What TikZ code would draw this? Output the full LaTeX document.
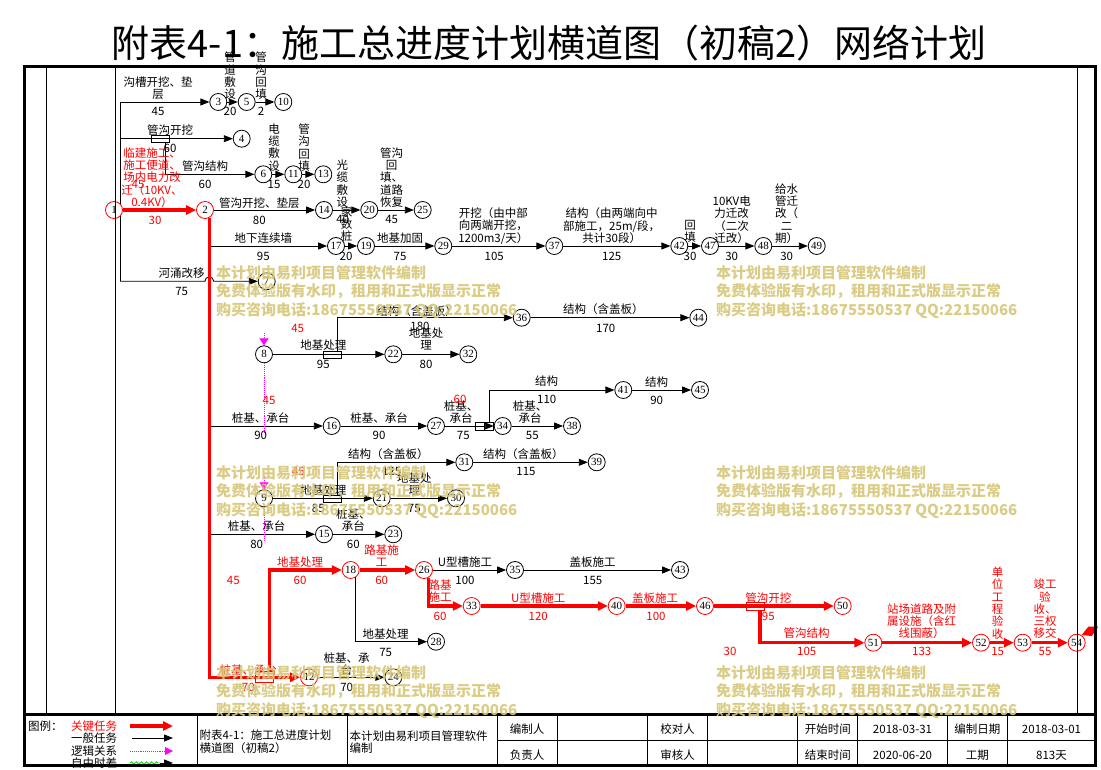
\documentclass[tikz,border=0pt]{standalone}
\usepackage{fontspec}
\setmainfont{Noto Sans CJK SC}
\newfontfamily\numfont{Liberation Serif}
\definecolor{red(key)}{rgb}{1.0, 0.0, 0.0}
\definecolor{magenta(logic)}{rgb}{1.0, 0.0, 1.0}
\definecolor{green(float)}{rgb}{0.0, 0.9, 0.0}
\definecolor{khaki(mark)}{rgb}{0.84, 0.78, 0.47}
\usetikzlibrary{arrows.meta,decorations.pathmorphing}

\begin{document}
\begin{tikzpicture}[x=1pt, y=-1pt,
	nd/.style={circle, draw, fill=white, inner sep=0pt, minimum size=17pt, line width=0.8pt, font=\numfont\fontsize{11}{11}\selectfont},
	ndk/.style={nd, draw=red(key)},
	lbl/.style={inner sep=0pt, align=center, font=\fontsize{11.5}{12.3}\selectfont},
	lblk/.style={lbl, text=red(key)},
	task/.style={draw, line width=0.9pt, -{Triangle[length=9pt,width=7pt]}},
	keytask/.style={draw=red(key), line width=3.3pt, -{Triangle[length=10pt,width=9pt]}},
	logic/.style={draw=magenta(logic), densely dotted, line width=0.9pt},
	split/.style={draw, inner sep=0pt, minimum width=18pt, minimum height=7.5pt, line width=0.8pt},
	wmark/.style={anchor=west, inner sep=0pt, align=left, text=khaki(mark), opacity=0.9, font=\bfseries\fontsize{15}{18.5}\selectfont},
	cell/.style={inner sep=0pt, align=center, font=\fontsize{11.5}{12.8}\selectfont}]
	\useasboundingbox (0,0) rectangle (1101,770);
	\node[inner sep=0pt, font=\fontsize{38}{40}\selectfont] (title) at (549,43) {附表4-1：施工总进度计划横道图（初稿2）网络计划};

	\coordinate (c1a) at (120,102);
	\coordinate (c1b) at (120,138.7);
	\coordinate (c1c) at (120,281.3);
	\draw[line width=0.9pt] (c1a) -- (c1c);

	\node[ndk] (n1) at (114,210) {1};
	\node[ndk] (n2) at (205,210) {2};
	\node[nd] (n3) at (218.3,102) {3};
	\node[nd] (n4) at (241.7,138.7) {4};
	\node[nd] (n5) at (246.7,102) {5};
	\node[nd] (n6) at (263.3,174.3) {6};
	\node[nd] (n7) at (266.7,281.3) {7};
	\node[nd] (n8) at (264,354.3) {8};
	\node[nd] (n9) at (264,498.3) {9};
	\node[nd] (n10) at (283.3,102) {10};
	\node[nd] (n11) at (293.3,174.3) {11};
	\node[ndk] (n12) at (309,677.3) {12};
	\node[nd] (n13) at (323.3,174.3) {13};
	\node[nd] (n14) at (324,210) {14};
	\node[nd] (n15) at (324,534.3) {15};
	\node[nd] (n16) at (331.7,426) {16};
	\node[nd] (n17) at (336,246) {17};
	\node[ndk] (n18) at (350.7,570) {18};
	\node[nd] (n19) at (366,246) {19};
	\node[nd] (n20) at (369.3,210) {20};
	\node[nd] (n21) at (381.7,498.3) {21};
	\node[nd] (n22) at (393.3,354.3) {22};
	\node[nd] (n23) at (393.3,534.3) {23};
	\node[nd] (n24) at (393.3,677.3) {24};
	\node[nd] (n25) at (422.7,210) {25};
	\node[ndk] (n26) at (424,570) {26};
	\node[nd] (n27) at (436,426) {27};
	\node[nd] (n28) at (436,641.7) {28};
	\node[nd] (n29) at (443.3,246) {29};
	\node[nd] (n30) at (456,498.3) {30};
	\node[nd] (n31) at (464.3,462.3) {31};
	\node[nd] (n32) at (468.3,354.3) {32};
	\node[ndk] (n33) at (471.7,606) {33};
	\node[nd] (n34) at (502.7,426) {34};
	\node[nd] (n35) at (515,570) {35};
	\node[nd] (n36) at (521.7,317.7) {36};
	\node[nd] (n37) at (554.3,246) {37};
	\node[nd] (n38) at (572,426) {38};
	\node[nd] (n39) at (596.7,462.3) {39};
	\node[ndk] (n40) at (616.7,606) {40};
	\node[nd] (n41) at (623.3,390) {41};
	\node[nd] (n42) at (679.3,246) {42};
	\node[nd] (n43) at (680,570) {43};
	\node[nd] (n44) at (698.3,317.7) {44};
	\node[nd] (n45) at (700,390) {45};
	\node[ndk] (n46) at (705,606) {46};
	\node[nd] (n47) at (710,246) {47};
	\node[nd] (n48) at (763.3,246) {48};
	\node[nd] (n49) at (816.7,246) {49};
	\node[ndk] (n50) at (842.7,606) {50};
	\node[ndk] (n51) at (873.3,642.7) {51};
	\node[ndk] (n52) at (981,642.7) {52};
	\node[ndk] (n53) at (1022.7,642.7) {53};
	\node[ndk] (n54) at (1076.7,642.7) {54};

	\node[split] (r1) at (160.5,138.7) {};
	\node[split] (r2) at (332.5,354.7) {};
	\node[split] (r3) at (484.3,426.3) {};
	\node[split] (r4) at (332.5,498.7) {};
	\node[split, draw=red(key), minimum height=10.5pt] (r5) at (264.2,677) {};
	\node[split, draw=red(key)] (r6) at (755,606.2) {};
	\draw[line width=0.8pt] (r3.north) -- (r3.south);

	\coordinate (hop1) at (204.9,281.3);
	\coordinate (s17) at (209.3,246);
	\coordinate (s16) at (209.3,426);
	\coordinate (s15) at (209.3,534.3);

	\path[task] (c1a) -- (n3);
	\path[task] (n3) -- (n5);
	\path[task] (n5) -- (n10);
	\path[task] (c1b) -- (n4);
	\path[task] ([xshift=5.2pt]r1.south) |- (n6);
	\path[task] (n6) -- (n11);
	\path[task] (n11) -- (n13);
	\path[task] (n2) -- (n14);
	\path[task] (n14) -- (n20);
	\path[task] (n20) -- (n25);
	\path[task] (s17) -- (n17);
	\path[task] (n17) -- (n19);
	\path[task] (n19) -- (n29);
	\path[task] (n29) -- (n37);
	\path[task] (n37) -- (n42);
	\path[task] (n42) -- (n47);
	\path[task] (n47) -- (n48);
	\path[task] (n48) -- (n49);
	\path[task] (c1c) -- (hop1) arc[start angle=180, end angle=360, radius=4.4] -- (n7);
	\path[task] (n8) -- (n22);
	\path[task] ([xshift=4.8pt]r2.north) |- (n36);
	\path[task] (n22) -- (n32);
	\path[task] (n36) -- (n44);
	\path[task] (s16) -- (n16);
	\path[task] (n16) -- (n27);
	\path[task] (n27) -- (n34);
	\path[task] ([xshift=5pt]r3.north) |- (n41);
	\path[task] (n34) -- (n38);
	\path[task] (n41) -- (n45);
	\path[task] (n9) -- (n21);
	\path[task] ([xshift=4.8pt]r4.north) |- (n31);
	\path[task] (n31) -- (n39);
	\path[task] (n21) -- (n30);
	\path[task] (s15) -- (n15);
	\path[task] (n15) -- (n23);
	\path[task] (n26) -- (n35);
	\path[task] (n35) -- (n43);
	\path[task] (n18.-54) |- (n28);
	\path[task] (n12) -- (n24);

	\path[keytask] (n1) -- (n2);
	\path[keytask] (n2.-62) |- (n12);
	\path[keytask] ([xshift=5.1pt]r5.north) |- (n18);
	\path[keytask] (n18) -- (n26);
	\path[keytask] (n26.-60) |- (n33);
	\path[keytask] (n33) -- (n40);
	\path[keytask] (n40) -- (n46);
	\path[keytask] (n46) -- (n50);
	\path[keytask] ([xshift=5pt]r6.south) |- (n51);
	\path[keytask] (n51) -- (n52);
	\path[keytask] (n52) -- (n53);
	\path[keytask] (n53) -- (n54);
	\fill[red(key)] (1081.7,635) -- (1088.3,626.7) -- (1098.3,626.7) -- (1091.7,636) -- cycle;

	\coordinate (g8) at (264,333);
	\coordinate (g8e) at (264,432);
	\coordinate (g9) at (264,476);
	\coordinate (g9e) at (264,540);
	\path[logic, -{Triangle[length=7pt,width=9pt]}] (g8) -- (n8);
	\path[logic] (n8) -- (g8e);
	\path[logic, -{Triangle[length=7pt,width=9pt]}] (g9) -- (n9);
	\path[logic] (n9) -- (g9e);

	\node[lbl] (t1) at (158,88) {沟槽开挖、垫\\层};
	\node[lbl] (d1) at (158,111.7) {45};
	\node[lbl] (t2) at (230,76) {管\\道\\敷\\设};
	\node[lbl] (d2) at (230,111.7) {20};
	\node[lbl] (t3) at (261,76) {管\\沟\\回\\填};
	\node[lbl] (d3) at (261,111.7) {2};
	\node[lbl] (t4) at (170,130) {管沟开挖};
	\node[lbl] (d4) at (170,148.3) {60};
	\node[lbl] (t5) at (205,166) {管沟结构};
	\node[lbl] (d5) at (205,184) {60};
	\node[lbl] (t6) at (274,147.5) {电\\缆\\敷\\设};
	\node[lbl] (d6) at (274,184) {15};
	\node[lbl] (t7) at (304,147.5) {管\\沟\\回\\填};
	\node[lbl] (d7) at (304,184) {20};
	\node[lbl] (t8) at (259.3,202.7) {管沟开挖、垫层};
	\node[lbl] (d8) at (259.3,220) {80};
	\node[lbl] (t9) at (342.3,183.5) {光\\缆\\敷\\设};
	\node[lbl] (d9) at (342.7,219.5) {40};
	\node[lbl] (t10) at (391.7,177.5) {管沟\\回\\填、\\道路\\恢复};
	\node[lbl] (d10) at (391.7,219.5) {45};
	\node[lbl] (t11) at (263.3,238.3) {地下连续墙};
	\node[lbl] (d11) at (263.3,256.7) {95};
	\node[lbl] (t12) at (346.7,224) {家\\数\\桩};
	\node[lbl] (d12) at (346,256.7) {20};
	\node[lbl] (t13) at (400,238.3) {地基加固};
	\node[lbl] (d13) at (400,256.7) {75};
	\node[lbl] (t14) at (493.3,225.9) {开挖（由中部\\向两端开挖，\\1200m3/天）};
	\node[lbl] (d14) at (494.3,256) {105};
	\node[lbl] (t15) at (611.7,225.9) {结构（由两端向中\\部施工，25m/段，\\共计30段）};
	\node[lbl] (d15) at (611.7,256) {125};
	\node[lbl] (t16) at (690,231.2) {回\\填};
	\node[lbl] (d16) at (690,256) {30};
	\node[lbl] (t17) at (731.7,219.7) {10KV电\\力迁改\\（二次\\迁改）};
	\node[lbl] (d17) at (731.7,256) {30};
	\node[lbl] (t18) at (786.7,213.7) {给水\\管迁\\改（\\二\\期）};
	\node[lbl] (d18) at (786.7,256) {30};
	\node[lbl] (t19) at (181.7,273.3) {河涌改移};
	\node[lbl] (d19) at (181.7,291.7) {75};
	\node[lbl] (t20) at (323.3,345) {地基处理};
	\node[lbl] (d20) at (323.3,364) {95};
	\node[lbl] (t21) at (416.7,310.7) {结构（含盖板）};
	\node[lbl] (d21) at (420,326.7) {180};
	\node[lbl] (t22) at (426,339.2) {地基处\\理};
	\node[lbl] (d22) at (426,364) {80};
	\node[lbl] (t23) at (603.3,309.3) {结构（含盖板）};
	\node[lbl] (d23) at (605.7,328.3) {170};
	\node[lbl] (t24) at (260.7,417.7) {桩基、承台};
	\node[lbl] (d24) at (260.7,435.7) {90};
	\node[lbl] (t25) at (379,417.7) {桩基、承台};
	\node[lbl] (d25) at (379,435.7) {90};
	\node[lbl] (t26) at (461,412.2) {桩基、\\承台};
	\node[lbl] (d26) at (463.3,435.7) {75};
	\node[lbl] (t27) at (546.7,380.7) {结构};
	\node[lbl] (d27) at (546.7,399.3) {110};
	\node[lbl] (t28) at (530,412.2) {桩基、\\承台};
	\node[lbl] (d28) at (532.3,435.7) {55};
	\node[lbl] (t29) at (656.7,381.7) {结构};
	\node[lbl] (d29) at (656.7,400) {90};
	\node[lbl] (t30) at (323.3,490) {地基处理};
	\node[lbl] (d30) at (318.3,508.3) {85};
	\node[lbl] (t31) at (388.3,454) {结构（含盖板）};
	\node[lbl] (d31) at (391.7,471.7) {125};
	\node[lbl] (t32) at (523.3,454) {结构（含盖板）};
	\node[lbl] (d32) at (526,471.7) {115};
	\node[lbl] (t33) at (414.3,484.2) {地基处\\理};
	\node[lbl] (d33) at (414.3,508.3) {75};
	\node[lbl] (t34) at (256.7,526) {桩基、承台};
	\node[lbl] (d34) at (256.7,544) {80};
	\node[lbl] (t35) at (353.3,520) {桩基、\\承台};
	\node[lbl] (d35) at (353.3,544) {60};
	\node[lbl] (t36) at (465,561.7) {U型槽施工};
	\node[lbl] (d36) at (465,580) {100};
	\node[lbl] (t37) at (592.7,561.7) {盖板施工};
	\node[lbl] (d37) at (592.7,580) {155};
	\node[lbl] (t38) at (385.7,634) {地基处理};
	\node[lbl] (d38) at (385.7,652.3) {75};
	\node[lbl] (t39) at (346.7,664.2) {桩基、承\\台};
	\node[lbl] (d39) at (346.7,687.3) {70};

	\node[lblk] (t40) at (152,177.5) {临建施工、\\施工便道、\\场内电力改\\迁（10KV、\\0.4KV）};
	\node[lblk] (d40) at (155,220) {30};
	\node[lblk] (t41) at (248.3,670) {桩基、承台};
	\node[lblk] (d41) at (248.3,687.3) {70};
	\node[lblk] (t42) at (300,561.7) {地基处理};
	\node[lblk] (d42) at (300,580) {60};
	\node[lblk] (t43) at (381.7,555.8) {路基施\\工};
	\node[lblk] (d43) at (381.7,580) {60};
	\node[lblk] (t44) at (440,591.2) {路基\\施工};
	\node[lblk] (d44) at (440,616) {60};
	\node[lblk] (t45) at (538.3,598.3) {U型槽施工};
	\node[lblk] (d45) at (538.3,616) {120};
	\node[lblk] (t46) at (655,598.3) {盖板施工};
	\node[lblk] (d46) at (656,616) {100};
	\node[lblk] (t47) at (768.3,598.3) {管沟开挖};
	\node[lblk] (d47) at (768.3,616) {95};
	\node[lblk] (t48) at (806.7,633.3) {管沟结构};
	\node[lblk] (d48) at (806.7,651.7) {105};
	\node[lblk] (t49) at (921.7,621.3) {站场道路及附\\属设施（含红\\线围蔽）};
	\node[lblk] (d49) at (921.7,651.7) {133};
	\node[lblk] (t50) at (997.7,603) {单\\位\\工\\程\\验\\收};
	\node[lblk] (d50) at (997.7,651.7) {15};
	\node[lblk] (t51) at (1045,609) {竣工\\验\\收、\\三权\\移交};
	\node[lblk] (d51) at (1045,651.7) {55};
	\node[lblk] (f1) at (138,184) {45};
	\node[lblk] (f2) at (297.7,328.3) {45};
	\node[lblk] (f3) at (269,400) {45};
	\node[lblk] (f4) at (298.3,471.7) {45};
	\node[lblk] (f5) at (233.3,580) {45};
	\node[lblk] (f6) at (460,399) {60};
	\node[lblk] (f7) at (730,651.7) {30};

	\draw[line width=0.9pt] (46,66.5) -- (46,714);
	\draw[line width=0.9pt] (115,66.5) -- (115,714);
	\draw[line width=0.9pt] (1077,66.5) -- (1077,714);
	\draw[line width=0.9pt] (197.5,714) -- (197.5,765.5);
	\draw[line width=0.9pt] (347.4,714) -- (347.4,765.5);
	\draw[line width=0.9pt] (497.2,714) -- (497.2,765.5);
	\draw[line width=0.9pt] (557.2,714) -- (557.2,765.5);
	\draw[line width=0.9pt] (647.4,714) -- (647.4,765.5);
	\draw[line width=0.9pt] (707.6,714) -- (707.6,765.5);
	\draw[line width=0.9pt] (797.8,714) -- (797.8,765.5);
	\draw[line width=0.9pt] (857.6,714) -- (857.6,765.5);
	\draw[line width=0.9pt] (947.4,714) -- (947.4,765.5);
	\draw[line width=0.9pt] (1007.2,714) -- (1007.2,765.5);
	\draw[line width=0.9pt] (497.2,740.6) -- (1095.5,740.6);

	\node[cell, anchor=west] (lg) at (28,726) {图例：};
	\node[cell, text=red(key)] (lgk) at (94,726) {关键任务};
	\node[cell] (lgn) at (94,738) {一般任务};
	\node[cell] (lgl) at (94,751) {逻辑关系};
	\node[cell] (lgf) at (94,763) {自由时差};
	\coordinate (ak1) at (130,726);
	\coordinate (ak2) at (173,726);
	\coordinate (an1) at (132,738);
	\coordinate (an2) at (173,738);
	\coordinate (al1) at (130,751);
	\coordinate (al2) at (173,751);
	\coordinate (af1) at (130,763);
	\coordinate (af2) at (160,763);
	\coordinate (af3) at (173,763);
	\path[keytask] (ak1) -- (ak2);
	\path[task] (an1) -- (an2);
	\path[logic, -{Triangle[length=8pt,width=8pt]}] (al1) -- (al2);
	\draw[green(float), line width=0.9pt, decorate, decoration={snake, amplitude=1.2pt, segment length=5pt}] (af1) -- (af2);
	\path[task] (af2) -- (af3);

	\node[cell, anchor=west, align=left] (cap1) at (199.5,742) {附表4-1：施工总进度计划\\横道图（初稿2）};
	\node[cell, anchor=west, align=left] (cap2) at (349.5,742) {本计划由易利项目管理软件\\编制};
	\node[cell] (tb1) at (527.2,729) {编制人};
	\node[cell] (tb2) at (527.2,755.5) {负责人};
	\node[cell] (tb3) at (677.5,729) {校对人};
	\node[cell] (tb4) at (677.5,755.5) {审核人};
	\node[cell] (tb5) at (827.8,729) {开始时间};
	\node[cell] (tb6) at (827.8,755.5) {结束时间};
	\node[cell] (tb7) at (902.5,729) {2018-03-31};
	\node[cell] (tb8) at (902.5,755.5) {2020-06-20};
	\node[cell] (tb9) at (977.3,729) {编制日期};
	\node[cell] (tb10) at (977.3,755.5) {工期};
	\node[cell] (tb11) at (1051.5,729) {2018-03-01};
	\node[cell] (tb12) at (1051.5,755.5) {813天};

	\draw[line width=3pt] (24.5,66.5) rectangle (1095.5,765.5);
	\draw[line width=3pt] (24.5,714) -- (1095.5,714);

	\node[wmark] (wm1) at (216,292) {本计划由易利项目管理软件编制\\免费体验版有水印，租用和正式版显示正常\\购买咨询电话:18675550537 QQ:22150066};
	\node[wmark] (wm2) at (716,292) {本计划由易利项目管理软件编制\\免费体验版有水印，租用和正式版显示正常\\购买咨询电话:18675550537 QQ:22150066};
	\node[wmark] (wm3) at (216,492) {本计划由易利项目管理软件编制\\免费体验版有水印，租用和正式版显示正常\\购买咨询电话:18675550537 QQ:22150066};
	\node[wmark] (wm4) at (716,492) {本计划由易利项目管理软件编制\\免费体验版有水印，租用和正式版显示正常\\购买咨询电话:18675550537 QQ:22150066};
	\node[wmark] (wm5) at (216,692) {本计划由易利项目管理软件编制\\免费体验版有水印，租用和正式版显示正常\\购买咨询电话:18675550537 QQ:22150066};
	\node[wmark] (wm6) at (716,692) {本计划由易利项目管理软件编制\\免费体验版有水印，租用和正式版显示正常\\购买咨询电话:18675550537 QQ:22150066};
\end{tikzpicture}
\end{document}
